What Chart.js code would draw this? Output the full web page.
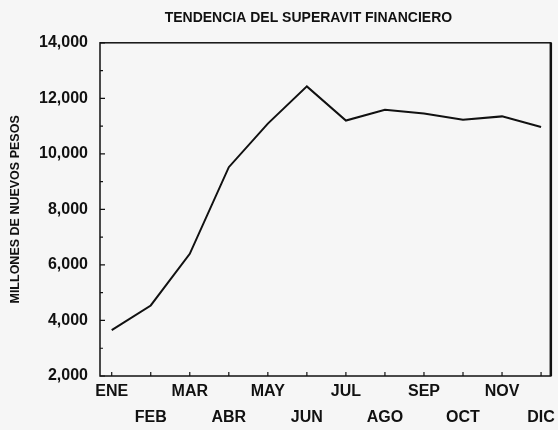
<!DOCTYPE html>
<html>
<head>
<meta charset="utf-8">
<script src="https://cdn.jsdelivr.net/npm/chart.js@4/dist/chart.umd.min.js"></script>
<style>
  html, body { margin: 0; padding: 0; background: #f6f6f6; }
  #wrap { width: 558px; height: 430px; }
</style>
</head>
<body>
<div id="wrap"><canvas id="chart"></canvas></div>
<script>
// meses (las etiquetas impares van en la segunda fila)
const meses = ["ENE", "FEB", "MAR", "ABR", "MAY", "JUN", "JUL", "AGO", "SEP", "OCT", "NOV", "DIC"];
// superavit financiero, millones de nuevos pesos
const superavit = [3650, 4540, 6400, 9520, 11090, 12430, 11200, 11590, 11450, 11230, 11350, 10970];
const yTicks = [2000, 4000, 6000, 8000, 10000, 12000, 14000];

const fontFam = "'Liberation Sans', Arial, sans-serif";

// marcas de escala hacia adentro y marco del area
const marcas = {
  id: "marcas",
  afterLayout(chart) {
    // el titulo va un poco a la izquierda del centro del area
    if (chart.titleBlock) {
      chart.titleBlock.left -= 17;
      chart.titleBlock.right -= 17;
    }
  },
  afterDraw(chart) {
    const { ctx, chartArea: a, scales } = chart;
    ctx.save();
    ctx.strokeStyle = "#111";
    ctx.lineWidth = 1.5;
    ctx.strokeRect(a.left, a.top, a.right - a.left, a.bottom - a.top);
    ctx.lineWidth = 2.5;
    ctx.beginPath();
    ctx.moveTo(a.right, a.top);
    ctx.lineTo(a.right, a.bottom);
    ctx.stroke();
    ctx.lineWidth = 1.2;
    ctx.beginPath();
    for (let v = 2000; v <= 14000; v += 1000) {
      const y = scales.y.getPixelForValue(v);
      const len = v % 2000 === 0 ? 5 : 3;
      ctx.moveTo(a.left, y);
      ctx.lineTo(a.left + len, y);
    }
    meses.forEach((m, i) => {
      const x = scales.x.getPixelForValue(i);
      ctx.moveTo(x, a.bottom);
      ctx.lineTo(x, a.bottom - 4);
    });
    ctx.stroke();
    ctx.restore();
  }
};

new Chart(document.getElementById("chart"), {
  type: "line",
  data: {
    datasets: [
      {
        data: superavit.map((v, i) => ({ x: i, y: v })),
        borderColor: "#111",
        borderWidth: 2,
        pointRadius: 0,
        tension: 0,
      },
    ],
  },
  options: {
    responsive: true,
    maintainAspectRatio: false,
    animation: false,
    layout: { padding: { top: 0, right: 4, bottom: 0, left: 0 } },
    scales: {
      x: {
        type: "linear",
        min: -0.3,
        max: 11.25,
        afterBuildTicks: (scale) => {
          scale.ticks = meses.map((m, i) => ({ value: i }));
        },
        afterFit: (scale) => {
          scale.height = 54;
        },
        grid: { display: false, drawTicks: false },
        border: { display: false },
        ticks: {
          autoSkip: false,
          maxRotation: 0,
          padding: 3,
          color: "#111",
          font: { family: fontFam, size: 16, weight: "bold", lineHeight: 1.6 },
          callback: (v) => (v % 2 === 0 ? meses[v] : ["", meses[v]]),
        },
      },
      y: {
        min: 2000,
        max: 14000,
        afterBuildTicks: (scale) => {
          scale.ticks = yTicks.map((v) => ({ value: v }));
        },
        afterFit: (scale) => {
          scale.width = 100;
        },
        grid: { display: false, drawTicks: false },
        border: { display: false },
        ticks: {
          padding: 12,
          color: "#111",
          font: { family: fontFam, size: 16, weight: "bold" },
          callback: (v) => v.toLocaleString("en-US"),
        },
        title: {
          display: true,
          text: "MILLONES DE NUEVOS PESOS",
          color: "#111",
          padding: { top: 8, bottom: 0 },
          font: { family: fontFam, size: 12.5, weight: "bold" },
        },
      },
    },
    plugins: {
      legend: { display: false },
      tooltip: { enabled: false },
      title: {
        display: true,
        fullSize: false,
        text: "TENDENCIA DEL SUPERAVIT FINANCIERO",
        color: "#111",
        padding: { top: 10, bottom: 16 },
        font: { family: fontFam, size: 14, weight: "bold" },
      },
    },
  },
  plugins: [marcas],
});
</script>
</body>
</html>
